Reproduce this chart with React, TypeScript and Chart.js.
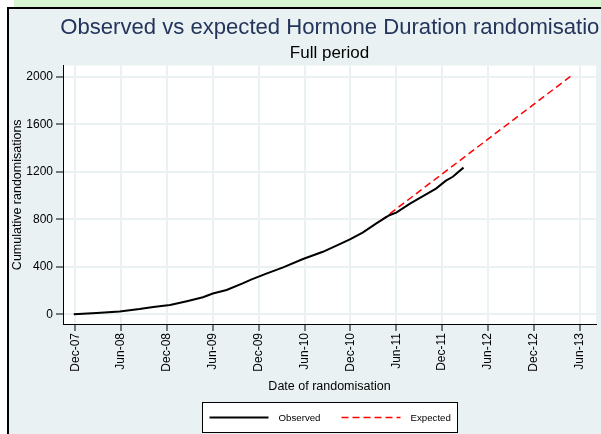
import React, { useEffect, useRef } from 'react';
import { Chart, registerables } from 'chart.js';

Chart.register(...registerables);

// Months since December 2007
const tickMonths = [0, 6, 12, 18, 24, 30, 36, 42, 48, 54, 60, 66];
const tickLabels = ['Dec-07', 'Jun-08', 'Dec-08', 'Jun-09', 'Dec-09', 'Jun-10', 'Dec-10', 'Jun-11', 'Dec-11', 'Jun-12', 'Dec-12', 'Jun-13'];
const yTicks = [0, 400, 800, 1200, 1600, 2000];

const observedMonths = [-0.2, 2.8, 5.8, 8.4, 10.2, 12.4, 14.6, 16.7, 18.0, 19.8, 21.9, 23.0, 25.0, 27.2, 29.8, 32.4, 34.6, 36.0, 37.6, 39.4, 41.1, 42.0, 43.8, 45.5, 47.2, 48.5, 49.4, 50.8];
const observedValues = [0, 10, 24, 44, 62, 78, 110, 143, 175, 205, 260, 292, 342, 395, 465, 526, 590, 633, 688, 765, 834, 856, 932, 994, 1058, 1125, 1158, 1235];

const expectedMonths = [40, 65];
const expectedValues = [790, 2013];

const FONT = "'Liberation Sans', Arial, Helvetica, sans-serif";

const W = 672;
const H = 434;

const plotBg = {
  id: 'plotBg',
  beforeDraw(chart: any) {
    const { ctx, chartArea } = chart;
    ctx.save();
    ctx.fillStyle = '#ffffff';
    ctx.fillRect(chartArea.left, chartArea.top, chartArea.right - chartArea.left, chartArea.bottom - chartArea.top);
    ctx.restore();
  },
};

const boxLegend = {
  id: 'boxLegend',
  afterDraw(chart: any) {
    const { ctx, chartArea } = chart;
    const cx = (chartArea.left + chartArea.right) / 2;
    const boxW = 255;
    const boxH = 30;
    const left = Math.round(cx - boxW / 2) + 0.5;
    const top = Math.round(chart.scales.x.bottom + 8) + 0.5;
    ctx.save();
    ctx.fillStyle = '#ffffff';
    ctx.fillRect(left, top, boxW, boxH);
    ctx.strokeStyle = '#000000';
    ctx.lineWidth = 1;
    ctx.strokeRect(left, top, boxW, boxH);
    const ly = top + 15;
    const items = chart.data.datasets;
    const offsets = [7, 139];
    items.forEach((ds: any, i: number) => {
      const x0 = left + offsets[i];
      ctx.beginPath();
      ctx.setLineDash(ds.borderDash || []);
      ctx.strokeStyle = ds.borderColor;
      ctx.lineWidth = ds.borderWidth;
      ctx.moveTo(x0, ly);
      ctx.lineTo(x0 + 59, ly);
      ctx.stroke();
      ctx.setLineDash([]);
      ctx.fillStyle = '#000000';
      ctx.font = `9.7px ${FONT}`;
      ctx.textBaseline = 'middle';
      ctx.textAlign = 'left';
      ctx.fillText(ds.label, x0 + 69, ly + 0.5);
    });
    ctx.restore();
  },
};

export default function App() {
  const ref = useRef<HTMLCanvasElement | null>(null);

  useEffect(() => {
    const canvas = ref.current;
    if (!canvas) return;
    const chart = new Chart(canvas, {
      type: 'line',
      data: {
        datasets: [
          {
            label: 'Observed',
            data: observedMonths.map((m, i) => ({ x: m, y: observedValues[i] })),
            borderColor: '#000000',
            borderWidth: 2,
            pointRadius: 0,
            tension: 0,
            fill: false,
          },
          {
            label: 'Expected',
            data: expectedMonths.map((m, i) => ({ x: m, y: expectedValues[i] })),
            borderColor: '#ff0000',
            borderWidth: 1.5,
            borderDash: [7, 4],
            pointRadius: 0,
            tension: 0,
            fill: false,
          },
        ],
      },
      options: {
        responsive: false,
        animation: false,
        devicePixelRatio: 1,
        layout: { padding: { left: 0, right: 0, top: 0, bottom: 40 } },
        plugins: {
          legend: { display: false },
          tooltip: { enabled: false },
          title: {
            display: true,
            text: 'Observed vs expected Hormone Duration randomisation',
            color: '#25345A',
            font: { family: FONT, size: 22.1, weight: 'normal' },
            padding: { top: 15, bottom: 0 },
          },
          subtitle: {
            display: true,
            fullSize: false,
            text: 'Full period',
            color: '#000000',
            font: { family: FONT, size: 17, weight: 'normal' },
            padding: { top: 2, bottom: 1.6 },
          },
        },
        scales: {
          x: {
            type: 'linear',
            min: -1.61,
            max: 68.14,
            afterBuildTicks: (s: any) => {
              s.ticks = tickMonths.map((v) => ({ value: v }));
            },
            afterFit: (s: any) => {
              s.height = 70;
            },
            ticks: {
              autoSkip: false,
              maxRotation: 90,
              minRotation: 90,
              padding: 2,
              color: '#000000',
              font: { family: FONT, size: 12 },
              callback: (v: any) => {
                const i = tickMonths.indexOf(Number(v));
                return i >= 0 ? tickLabels[i] : '';
              },
            },
            grid: {
              color: '#E9F1F3',
              lineWidth: 2,
              tickColor: '#000000',
              tickWidth: 1,
              tickLength: 7,
            },
            border: { display: true, color: '#000000', width: 1 },
            title: {
              display: true,
              text: 'Date of randomisation',
              color: '#000000',
              font: { family: FONT, size: 12.5 },
              padding: { top: 0, bottom: 0 },
            },
          },
          y: {
            type: 'linear',
            position: 'left',
            min: -82,
            max: 2095,
            afterBuildTicks: (s: any) => {
              s.ticks = yTicks.map((v) => ({ value: v }));
            },
            afterFit: (s: any) => {
              s.width = 63;
            },
            ticks: {
              padding: 3,
              color: '#000000',
              font: { family: FONT, size: 12 },
              callback: (v: any) => String(v),
            },
            grid: {
              color: '#E9F1F3',
              lineWidth: 2,
              tickColor: '#000000',
              tickWidth: 1,
              tickLength: 7,
            },
            border: { display: true, color: '#000000', width: 1 },
            title: {
              display: true,
              text: 'Cumulative randomisations',
              color: '#000000',
              font: { family: FONT, size: 12.5 },
              padding: { top: 10, bottom: 0 },
            },
          },
          yR: {
            type: 'linear',
            position: 'right',
            display: true,
            afterFit: (s: any) => {
              s.width = W - 596;
            },
            ticks: { display: false },
            grid: { display: false, drawTicks: false },
            border: { display: false },
          },
        },
      },
      plugins: [plotBg, boxLegend],
    } as any);
    return () => chart.destroy();
  }, []);

  return (
    <div style={{ position: 'fixed', left: 0, top: 0, width: 601, height: 434, overflow: 'hidden', background: '#ffffff' }}>
      <div style={{ position: 'absolute', left: 14, top: 0, right: 0, height: 7, background: '#D9F6D2' }} />
      <div
        style={{
          position: 'absolute',
          left: 7,
          top: 7,
          width: 700,
          height: 500,
          borderLeft: '2px solid #000',
          borderTop: '2px solid #000',
          background: '#E9F1F3',
        }}
      />
      <canvas ref={ref} width={W} height={H} style={{ position: 'absolute', left: 0, top: 0, width: W, height: H }} />
    </div>
  );
}
